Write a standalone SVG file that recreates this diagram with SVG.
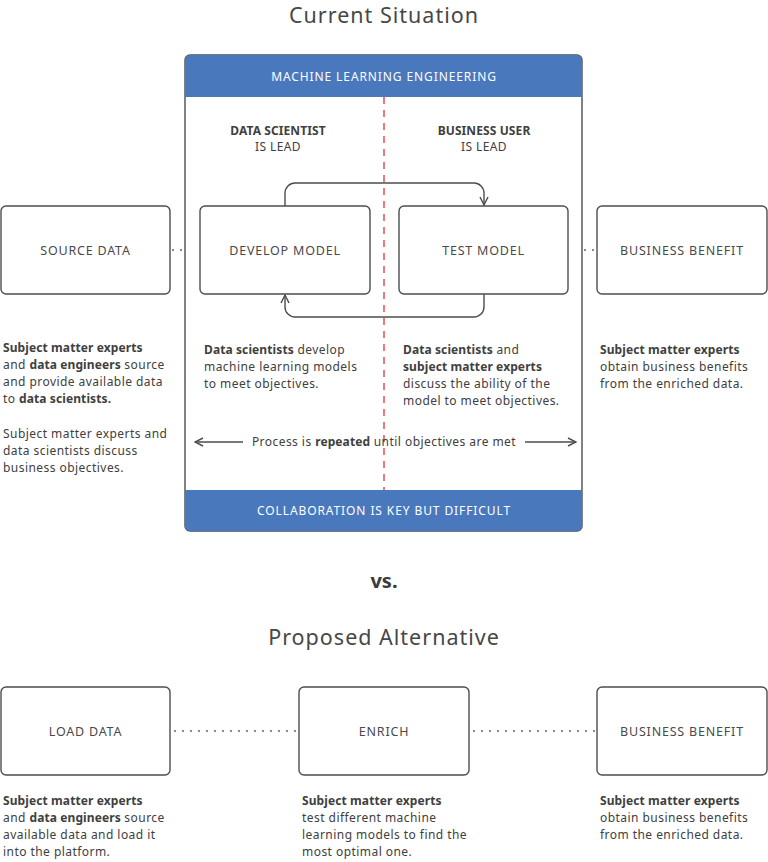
<svg xmlns="http://www.w3.org/2000/svg" width="768" height="862" viewBox="0 0 768 862">
  <style>
    text { font-family: "Noto Sans", "Open Sans", sans-serif; fill: #404040; }
    .title { font-size: 21.5px; text-anchor: middle; fill: #474747; letter-spacing: 1px; }
    .vs { font-size: 20px; font-weight: bold; text-anchor: middle; fill: #3a3a3a; }
    .band { fill: #4a78bd; }
    .band-text { font-size: 12px; fill: #ffffff; text-anchor: middle; letter-spacing: 0.9px; }
    .box { fill: #ffffff; stroke: #4d4d4d; stroke-width: 1.4; }
    .label { font-size: 12.5px; text-anchor: middle; fill: #4a4a4a; letter-spacing: 0.8px; }
    .head { font-size: 12px; text-anchor: middle; letter-spacing: 0.4px; }
    .body { font-size: 12px; letter-spacing: 0.45px; }
    .b { font-weight: bold; letter-spacing: 0.1px; }
    .flow { fill: none; stroke: #4d4d4d; stroke-width: 1.4; }
    .dots { fill: none; stroke: #666666; stroke-width: 1.4; stroke-dasharray: 2 6; }
    .divider { stroke: #e0343a; stroke-width: 1.3; stroke-dasharray: 7 6; }
  </style>
  <defs>
    <marker id="arrow" viewBox="0 0 10 10" refX="9" refY="5" markerWidth="10" markerHeight="10" markerUnits="userSpaceOnUse" orient="auto">
      <path d="M1,1 L9,5 L1,9" fill="none" stroke="#4d4d4d" stroke-width="1.4"/>
    </marker>
  </defs>

  <rect width="768" height="862" fill="#ffffff"/>

  <text class="title" x="384" y="23">Current Situation</text>

  <!-- Machine learning engineering frame -->
  <g id="ml-engineering">
    <rect x="185" y="55" width="397" height="476" rx="5" fill="#ffffff" stroke="#4d4d4d" stroke-width="1.4"/>
    <path class="band" d="M185,97 V60 a5,5 0 0 1 5,-5 H577 a5,5 0 0 1 5,5 V97 Z"/>
    <path class="band" d="M185,490 V526 a5,5 0 0 0 5,5 H577 a5,5 0 0 0 5,-5 V490 Z"/>
    <text class="band-text" x="384" y="81">MACHINE LEARNING ENGINEERING</text>
    <text class="band-text" x="384" y="515">COLLABORATION IS KEY BUT DIFFICULT</text>
    <line class="divider" x1="384" y1="97" x2="384" y2="490"/>
    <text class="head" x="278" y="135"><tspan class="b">DATA SCIENTIST</tspan><tspan x="278" dy="16">IS LEAD</tspan></text>
    <text class="head" x="484" y="135"><tspan class="b">BUSINESS USER</tspan><tspan x="484" dy="16">IS LEAD</tspan></text>
  </g>

  <g id="source-data">
    <rect class="box" x="1" y="206" width="169" height="88" rx="5"/>
    <text class="label" x="85.5" y="254.5">SOURCE DATA</text>
  </g>
  <g id="develop-model">
    <rect class="box" x="200" y="206" width="170" height="88" rx="5"/>
    <text class="label" x="285" y="254.5">DEVELOP MODEL</text>
  </g>
  <g id="test-model">
    <rect class="box" x="399" y="206" width="169" height="88" rx="5"/>
    <text class="label" x="483.5" y="254.5">TEST MODEL</text>
  </g>
  <g id="business-benefit-1">
    <rect class="box" x="597" y="206" width="170" height="88" rx="5"/>
    <text class="label" x="682" y="254.5">BUSINESS BENEFIT</text>
  </g>

  <g id="connectors">
    <path class="flow" d="M285,206 V193 a10,10 0 0 1 10,-10 H474 a10,10 0 0 1 10,10 V205" marker-end="url(#arrow)"/>
    <path class="flow" d="M484,294 V307 a10,10 0 0 1 -10,10 H295 a10,10 0 0 1 -10,-10 V295" marker-end="url(#arrow)"/>
    <line class="dots" x1="172" y1="250" x2="185" y2="250"/>
    <line class="dots" x1="584" y1="250" x2="597" y2="250"/>
    <line class="flow" x1="243" y1="442" x2="195" y2="442" marker-end="url(#arrow)"/>
    <line class="flow" x1="525" y1="442" x2="576" y2="442" marker-end="url(#arrow)"/>
    <line class="dots" x1="174" y1="731" x2="299" y2="731"/>
    <line class="dots" x1="473" y1="731" x2="597" y2="731"/>
  </g>

  <!-- descriptions, current situation -->
  <text class="body" x="3" y="352"><tspan class="b">Subject matter experts</tspan><tspan x="3" dy="17">and </tspan><tspan class="b">data engineers</tspan><tspan> source</tspan><tspan x="3" dy="17">and provide available data</tspan><tspan x="3" dy="17">to </tspan><tspan class="b">data scientists.</tspan></text>
  <text class="body" x="3" y="438">Subject matter experts and<tspan x="3" dy="17">data scientists discuss</tspan><tspan x="3" dy="17">business objectives.</tspan></text>
  <text class="body" x="204" y="354"><tspan class="b">Data scientists</tspan> develop<tspan x="204" dy="17">machine learning models</tspan><tspan x="204" dy="17">to meet objectives.</tspan></text>
  <text class="body" x="403" y="354"><tspan class="b">Data scientists</tspan> and<tspan x="403" dy="17" class="b">subject matter experts</tspan><tspan x="403" dy="17">discuss the ability of the</tspan><tspan x="403" dy="17">model to meet objectives.</tspan></text>
  <text class="body" x="600" y="354"><tspan class="b">Subject matter experts</tspan><tspan x="600" dy="17">obtain business benefits</tspan><tspan x="600" dy="17">from the enriched data.</tspan></text>
  <text class="body" x="384" y="446" text-anchor="middle">Process is <tspan class="b">repeated</tspan> until objectives are met</text>

  <text class="vs" x="384" y="588">vs.</text>
  <text class="title" x="384" y="645">Proposed Alternative</text>

  <g id="load-data">
    <rect class="box" x="1" y="687" width="169" height="88" rx="5"/>
    <text class="label" x="85.5" y="735.5">LOAD DATA</text>
  </g>
  <g id="enrich">
    <rect class="box" x="299" y="687" width="170" height="88" rx="5"/>
    <text class="label" x="384" y="735.5">ENRICH</text>
  </g>
  <g id="business-benefit-2">
    <rect class="box" x="597" y="687" width="170" height="88" rx="5"/>
    <text class="label" x="682" y="735.5">BUSINESS BENEFIT</text>
  </g>

  <!-- descriptions, proposed alternative -->
  <text class="body" x="3" y="805"><tspan class="b">Subject matter experts</tspan><tspan x="3" dy="17">and </tspan><tspan class="b">data engineers</tspan><tspan> source</tspan><tspan x="3" dy="17">available data and load it</tspan><tspan x="3" dy="17">into the platform.</tspan></text>
  <text class="body" x="302" y="805"><tspan class="b">Subject matter experts</tspan><tspan x="302" dy="17">test different machine</tspan><tspan x="302" dy="17">learning models to find the</tspan><tspan x="302" dy="17">most optimal one.</tspan></text>
  <text class="body" x="600" y="805"><tspan class="b">Subject matter experts</tspan><tspan x="600" dy="17">obtain business benefits</tspan><tspan x="600" dy="17">from the enriched data.</tspan></text>
</svg>
